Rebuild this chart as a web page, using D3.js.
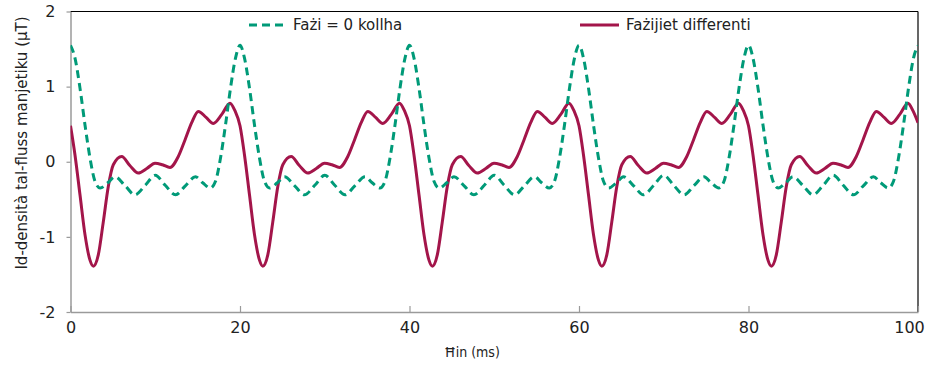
<!DOCTYPE html>
<html>
<head>
<meta charset="utf-8">
<script src="https://cdn.jsdelivr.net/npm/d3@7"></script>
<style>
  html, body { margin: 0; padding: 0; background: #fff; }
  svg { display: block; font-family: "DejaVu Sans", sans-serif; }
</style>
</head>
<body>
<svg id="chart" width="935" height="365"></svg>
<script>
// Magnetic flux density over time, two waveforms: all phases zero vs. differing phases.
const xTicks = [0, 20, 40, 60, 80, 100];
const yTicks = [-2, -1, 0, 1, 2];
const seriesNames = ["Fażi = 0 kollha", "Fażijiet differenti"];
const xTitle = "Ħin (ms)";
const yTitle = "Id-densità tal-fluss manjetiku (µT)";

// [time in ms, flux density in µT]
const phasesZero = [
  [0,1.55],[0.53,1.38],[1.12,0.98],[1.71,0.49],[2.3,0.05],[2.89,-0.26],[3.5,-0.35],[4.4,-0.28],
  [5.25,-0.2],[6.45,-0.32],[7.6,-0.44],[8.85,-0.31],[10,-0.18],[11.15,-0.31],[12.4,-0.44],[13.55,-0.32],
  [14.75,-0.2],[15.6,-0.28],[16.5,-0.35],[17.11,-0.26],[17.7,0.05],[18.29,0.49],[18.88,0.98],[19.47,1.38],
  [20,1.55],[20.53,1.38],[21.12,0.98],[21.71,0.49],[22.3,0.05],[22.89,-0.26],[23.5,-0.35],[24.4,-0.28],
  [25.25,-0.2],[26.45,-0.32],[27.6,-0.44],[28.85,-0.31],[30,-0.18],[31.15,-0.31],[32.4,-0.44],[33.55,-0.32],
  [34.75,-0.2],[35.6,-0.28],[36.5,-0.35],[37.11,-0.26],[37.7,0.05],[38.29,0.49],[38.88,0.98],[39.47,1.38],
  [40,1.55],[40.53,1.38],[41.12,0.98],[41.71,0.49],[42.3,0.05],[42.89,-0.26],[43.5,-0.35],[44.4,-0.28],
  [45.25,-0.2],[46.45,-0.32],[47.6,-0.44],[48.85,-0.31],[50,-0.18],[51.15,-0.31],[52.4,-0.44],[53.55,-0.32],
  [54.75,-0.2],[55.6,-0.28],[56.5,-0.35],[57.11,-0.26],[57.7,0.05],[58.29,0.49],[58.88,0.98],[59.47,1.38],
  [60,1.55],[60.53,1.38],[61.12,0.98],[61.71,0.49],[62.3,0.05],[62.89,-0.26],[63.5,-0.35],[64.4,-0.28],
  [65.25,-0.2],[66.45,-0.32],[67.6,-0.44],[68.85,-0.31],[70,-0.18],[71.15,-0.31],[72.4,-0.44],[73.55,-0.32],
  [74.75,-0.2],[75.6,-0.28],[76.5,-0.35],[77.11,-0.26],[77.7,0.05],[78.29,0.49],[78.88,0.98],[79.47,1.38],
  [80,1.55],[80.53,1.38],[81.12,0.98],[81.71,0.49],[82.3,0.05],[82.89,-0.26],[83.5,-0.35],[84.4,-0.28],
  [85.25,-0.2],[86.45,-0.32],[87.6,-0.44],[88.85,-0.31],[90,-0.18],[91.15,-0.31],[92.4,-0.44],[93.55,-0.32],
  [94.75,-0.2],[95.6,-0.28],[96.5,-0.35],[97.11,-0.26],[97.7,0.05],[98.29,0.49],[98.88,0.98],[99.47,1.38],
  [100,1.55]
];

const phasesDiffer = [
  [0,0.48],[0.53,0.09],[1.12,-0.44],[1.71,-0.97],[2.3,-1.31],[2.69,-1.39],[3.28,-1.24],[3.87,-0.8],
  [4.46,-0.33],[5.05,-0.04],[6.04,0.07],[7,-0.05],[8,-0.15],[9,-0.09],[9.97,-0.02],[10.85,-0.04],
  [11.74,-0.075],[12.72,0.07],[13.51,0.29],[14.3,0.52],[15.08,0.67],[16,0.59],[16.85,0.51],[17.85,0.63],
  [18.82,0.78],[19.4,0.68],
  [20,0.48],[20.53,0.09],[21.12,-0.44],[21.71,-0.97],[22.3,-1.31],[22.69,-1.39],[23.28,-1.24],[23.87,-0.8],
  [24.46,-0.33],[25.05,-0.04],[26.04,0.07],[27,-0.05],[28,-0.15],[29,-0.09],[29.97,-0.02],[30.85,-0.04],
  [31.74,-0.075],[32.72,0.07],[33.51,0.29],[34.3,0.52],[35.08,0.67],[36,0.59],[36.85,0.51],[37.85,0.63],
  [38.82,0.78],[39.4,0.68],
  [40,0.48],[40.53,0.09],[41.12,-0.44],[41.71,-0.97],[42.3,-1.31],[42.69,-1.39],[43.28,-1.24],[43.87,-0.8],
  [44.46,-0.33],[45.05,-0.04],[46.04,0.07],[47,-0.05],[48,-0.15],[49,-0.09],[49.97,-0.02],[50.85,-0.04],
  [51.74,-0.075],[52.72,0.07],[53.51,0.29],[54.3,0.52],[55.08,0.67],[56,0.59],[56.85,0.51],[57.85,0.63],
  [58.82,0.78],[59.4,0.68],
  [60,0.48],[60.53,0.09],[61.12,-0.44],[61.71,-0.97],[62.3,-1.31],[62.69,-1.39],[63.28,-1.24],[63.87,-0.8],
  [64.46,-0.33],[65.05,-0.04],[66.04,0.07],[67,-0.05],[68,-0.15],[69,-0.09],[69.97,-0.02],[70.85,-0.04],
  [71.74,-0.075],[72.72,0.07],[73.51,0.29],[74.3,0.52],[75.08,0.67],[76,0.59],[76.85,0.51],[77.85,0.63],
  [78.82,0.78],[79.4,0.68],
  [80,0.48],[80.53,0.09],[81.12,-0.44],[81.71,-0.97],[82.3,-1.31],[82.69,-1.39],[83.28,-1.24],[83.87,-0.8],
  [84.46,-0.33],[85.05,-0.04],[86.04,0.07],[87,-0.05],[88,-0.15],[89,-0.09],[89.97,-0.02],[90.85,-0.04],
  [91.74,-0.075],[92.72,0.07],[93.51,0.29],[94.3,0.52],[95.08,0.67],[96,0.59],[96.85,0.51],[97.85,0.63],
  [98.82,0.78],[99.4,0.68],
  [100,0.52]
];

const GREEN = "#009a78";
const RED = "#a3154a";
const AXIS_GREY = "#9a9a9a";

const svg = d3.select("#chart");
const plotLeft = 70.5, plotRight = 918, plotTop = 11.5, plotBottom = 312;

const x = d3.scaleLinear().domain([0, 100]).range([plotLeft, plotRight]);
const y = d3.scaleLinear().domain([-2, 2]).range([plotBottom, plotTop]);

// Frame: black top and right edges
svg.append("line").attr("x1", plotLeft).attr("x2", plotRight).attr("y1", plotTop).attr("y2", plotTop)
  .attr("stroke", "#000").attr("stroke-width", 1.2);
svg.append("line").attr("x1", plotRight).attr("x2", plotRight).attr("y1", plotTop).attr("y2", plotBottom)
  .attr("stroke", "#000").attr("stroke-width", 1.2);

// Y axis
const yAxis = svg.append("g")
  .attr("transform", `translate(${plotLeft},0)`)
  .call(d3.axisLeft(y).tickValues(yTicks).tickFormat(d3.format("d")).tickSizeInner(4).tickSizeOuter(0).tickPadding(11));
yAxis.select(".domain").attr("stroke", AXIS_GREY).attr("stroke-width", 1.5);
yAxis.selectAll(".tick line").attr("stroke", AXIS_GREY).attr("stroke-width", 1.2);
yAxis.selectAll(".tick text").attr("font-size", 16).attr("fill", "#222")
  .attr("font-family", "DejaVu Sans, sans-serif")
  .text(d => d < 0 ? "-" + Math.abs(d) : d);

// X axis, ticks pointing into the plot
const xAxis = svg.append("g")
  .attr("transform", `translate(0,${plotBottom})`)
  .call(d3.axisBottom(x).tickValues(xTicks).tickFormat(d3.format("d")).tickSizeInner(-6).tickSizeOuter(0).tickPadding(10));
xAxis.select(".domain").attr("stroke", AXIS_GREY).attr("stroke-width", 1.5);
xAxis.selectAll(".tick line").attr("stroke", AXIS_GREY).attr("stroke-width", 1.2);
xAxis.selectAll(".tick text").attr("font-size", 16).attr("fill", "#222")
  .attr("font-family", "DejaVu Sans, sans-serif")
  .attr("dx", d => d === 100 ? -9 : 0);

// Axis titles
svg.append("text")
  .attr("x", 472).attr("y", 357)
  .attr("text-anchor", "middle")
  .attr("font-size", 14).attr("fill", "#222")
  .attr("font-family", "DejaVu Sans Condensed, DejaVu Sans, sans-serif")
  .text(xTitle);

svg.append("text")
  .attr("transform", `translate(27,143) rotate(-90)`)
  .attr("text-anchor", "middle")
  .attr("font-size", 15).attr("fill", "#222")
  .text(yTitle);

// Curves
svg.append("clipPath").attr("id", "plot-clip")
  .append("rect").attr("x", plotLeft).attr("y", 0).attr("width", plotRight - plotLeft).attr("height", 365);

const line = d3.line()
  .x(d => x(d[0]))
  .y(d => y(d[1]))
  .curve(d3.curveMonotoneX);

const plot = svg.append("g").attr("clip-path", "url(#plot-clip)");

plot.append("path")
  .datum(phasesDiffer)
  .attr("d", line)
  .attr("fill", "none")
  .attr("stroke", RED)
  .attr("stroke-width", 3)
  .attr("stroke-linejoin", "round");

plot.append("path")
  .datum(phasesZero)
  .attr("d", line)
  .attr("fill", "none")
  .attr("stroke", GREEN)
  .attr("stroke-width", 3)
  .attr("stroke-dasharray", "8,5");

// Legend
const legend = svg.append("g").attr("font-size", 15).attr("fill", "#222");
const legendItems = [
  { name: seriesNames[0], color: GREEN, dash: "8,5", x1: 249, x2: 283, tx: 293 },
  { name: seriesNames[1], color: RED, dash: null, x1: 580, x2: 619, tx: 626 }
];
legendItems.forEach(it => {
  legend.append("line")
    .attr("x1", it.x1).attr("x2", it.x2).attr("y1", 25).attr("y2", 25)
    .attr("stroke", it.color).attr("stroke-width", 3)
    .attr("stroke-dasharray", it.dash);
  legend.append("text")
    .attr("x", it.tx).attr("y", 30)
    .attr("fill", "#222")
    .text(it.name);
});
</script>
</body>
</html>
